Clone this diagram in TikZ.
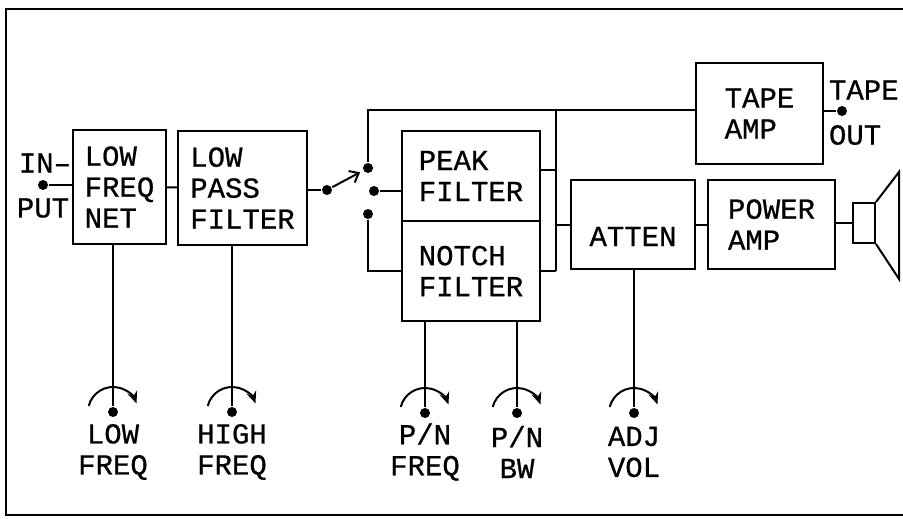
\documentclass[tikz,border=0pt]{standalone}
\usepackage{fontspec}
\newfontfamily\plotfont[FakeBold=0.7]{Liberation Mono}
\usetikzlibrary{arrows.meta}

\begin{document}
\begin{tikzpicture}[x=1pt, y=-1pt, line width=2pt,
  block/.style={rectangle, draw, inner sep=0pt, align=left, font=\plotfont\fontsize{29}{31}\selectfont},
  contact/.style={circle, fill, inner sep=0pt, minimum size=10pt},
  txt/.style={inner sep=0pt, align=center, font=\plotfont\fontsize{29}{31}\selectfont},
  knob/.style={-{Stealth[length=12pt,width=10pt]}}]
\useasboundingbox (0,0) rectangle (903,519);

% Frame, open on the right
\draw (903,9) -- (6,9) -- (6,515) -- (903,515);

% Signal chain blocks
\node[block, minimum width=93pt, minimum height=114pt] (lfnet) at (119.5,187) {LOW\\FREQ\\NET};
\node[block, minimum width=129pt, minimum height=114pt] (lpf) at (242.5,188) {LOW\\PASS\\FILTER};
\node[block, minimum width=138pt, minimum height=90pt] (peak) at (471,176) {PEAK\\FILTER};
\node[block, minimum width=138pt, minimum height=100pt] (notch) at (471,271) {NOTCH\\FILTER};
\node[block, minimum width=127pt, minimum height=101pt] (tapeamp) at (759.5,113.5) {TAPE\\AMP};
\node[block, minimum width=124pt, minimum height=89pt, text height=43pt, text depth=0pt] (atten) at (633,224.5) {ATTEN};
\node[block, minimum width=127pt, minimum height=89pt] (poweramp) at (771.5,224.5) {POWER\\AMP};

% Input
\node[contact] (inp) at (43,185) {};
\node[txt] (inTop) at (45,163) {IN–};
\node[txt] (inBot) at (43,208) {PUT};
\draw (inp) -- (inp -| lfnet.west);
\draw (lfnet) -- (lpf);

% Selector switch
\node[contact] (sw) at (327,190) {};
\node[contact] (swA) at (368,168) {};
\node[contact] (swB) at (374,191) {};
\node[contact] (swC) at (368,214) {};
\draw (sw -| lpf.east) -- (sw);
\draw[-{Straight Barb[length=8pt,width=13pt]}, shorten >=3pt] (sw) -- (swA);
\draw (swB) -- (swB -| peak.west);
\draw (swC) |- (notch.west);

% Bypass and output bus
\coordinate (bus) at (556,110);
\draw (swA) |- (bus) -- (bus -| tapeamp.west);
\draw (bus) -- (bus |- notch.east);
\draw ([yshift=6pt]peak.east) -- ([yshift=6pt]peak.east -| bus);
\draw (notch.east) -- (notch.east -| bus);
\draw (bus |- atten.west) -- (atten.west);
\draw (atten) -- (poweramp);

% Tape output
\node[contact] (tout) at (842,111) {};
\node[txt, anchor=west] (toutTop) at (828,90) {TAPE};
\node[txt, anchor=west] (toutBot) at (828,135) {OUT};
\draw (tapeamp.east |- tout) -- (tout);

% Speaker
\node[rectangle, draw, inner sep=0pt, minimum width=22pt, minimum height=40pt] (spk) at (864,223) {};
\draw (spk.north east) -- ++(23,-30) -- ++(0,107) -- (spk.south east);
\draw (poweramp.east |- spk) -- (spk);

% Front panel controls
\node[contact] (kLowF) at (113,412) {};
\node[contact] (kHighF) at (232,412) {};
\node[contact] (kPnF) at (425,413) {};
\node[contact] (kPnBw) at (517,413) {};
\node[contact] (kVol) at (634,413) {};
\draw (lfnet.south -| kLowF) -- (kLowF);
\draw (lpf.south -| kHighF) -- (kHighF);
\draw (notch.south -| kPnF) -- (kPnF);
\draw (notch.south -| kPnBw) -- (kPnBw);
\draw (atten.south -| kVol) -- (kVol);
\foreach \k in {kLowF, kHighF, kPnF, kPnBw, kVol}
  \draw[knob] ([shift={(194:25)}]\k.center) arc[start angle=194, end angle=340, radius=25];

\node[txt] (lLowF) at (113,452) {LOW\\FREQ};
\node[txt] (lHighF) at (232,452) {HIGH\\FREQ};
\node[txt] (lPnF) at (425,452) {P/N\\FREQ};
\node[txt] (lPnBw) at (517,452) {P/N\\BW};
\node[txt] (lVol) at (634,452) {ADJ\\VOL};
\end{tikzpicture}
\end{document}
